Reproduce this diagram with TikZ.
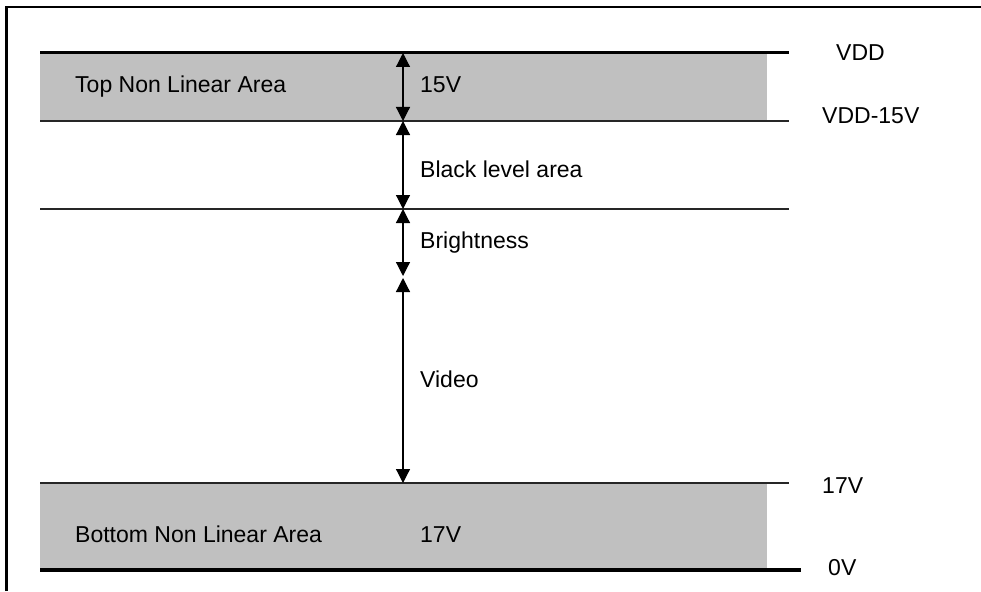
\documentclass[tikz,border=0pt]{standalone}
\usepackage{fontspec}
\setmainfont{Liberation Sans}
\definecolor{bandgray}{HTML}{C0C0C0}
\usetikzlibrary{arrows.meta}

\begin{document}
\begin{tikzpicture}[x=1pt,y=-1pt,
  lbl/.style={anchor=base west, inner sep=0pt, font=\fontsize{23}{27}\selectfont},
  dim/.style={{Triangle[width=14pt,length=14pt]}-{Triangle[width=14pt,length=14pt]}, line width=1.2pt},
  level/.style={line width=1.5pt, black!85}]
  \useasboundingbox (0,0) rectangle (981,591);

  % frame
  \draw[line width=2.5pt] (6.5,591) -- (6.5,7) -- (981,7);

  % grey bands
  \fill[bandgray] (40,53) rectangle (767,121);
  \fill[bandgray] (40,483) rectangle (767,570);

  % level lines
  \draw[line width=3pt] (40,53) -- (789,53);
  \foreach \y in {121,209,483} {
    \draw[level] (40,\y) -- (789,\y);
  }
  \draw[line width=4.5pt] (40,570) -- (801,570);

  % arrow ends
  \coordinate (vdd) at (403,53);
  \coordinate (vdd15) at (403,121);
  \coordinate (blk) at (403,209);
  \coordinate (brt) at (403,276);
  \coordinate (vid) at (403,278);
  \coordinate (low) at (403,483);

  \draw[dim] (vdd) -- (vdd15);
  \draw[dim] (vdd15) -- (blk);
  \draw[dim] (blk) -- (brt);
  \draw[dim] (vid) -- (low);

  % labels
  \node[lbl] (topnl) at (75,93) {Top Non Linear Area};
  \node[lbl] (v15) at (420,93) {15V};
  \node[lbl] (black) at (420,177) {Black level area};
  \node[lbl] (bright) at (420,248) {Brightness};
  \node[lbl] (video) at (420,387) {Video};
  \node[lbl] (botnl) at (75,542) {Bottom Non Linear Area};
  \node[lbl] (v17) at (420,542) {17V};

  % right side levels
  \node[lbl] (lvdd) at (836,61) {VDD};
  \node[lbl] (lvdd15) at (822,124) {VDD-15V};
  \node[lbl] (l17) at (822,493) {17V};
  \node[lbl] (l0) at (828,575) {0V};
\end{tikzpicture}
\end{document}
